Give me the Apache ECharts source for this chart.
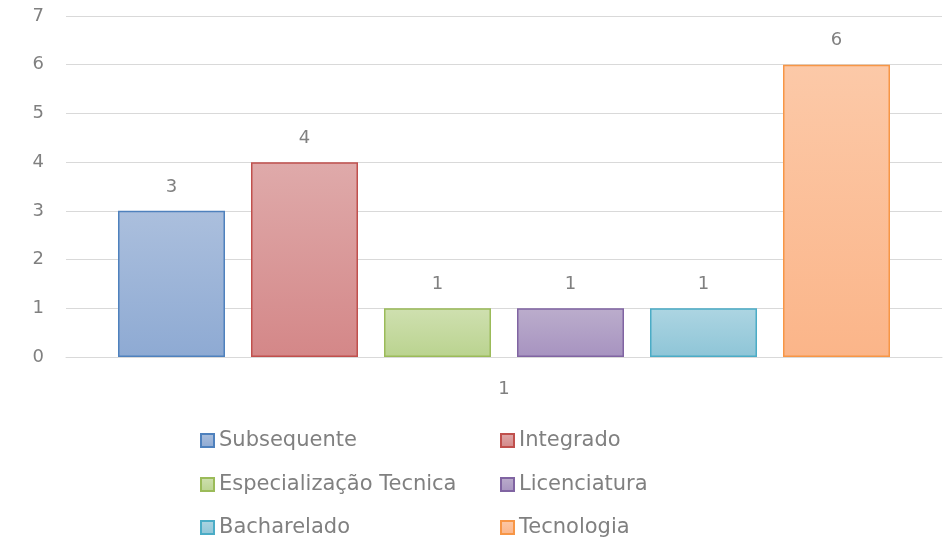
<!DOCTYPE html>
<html>
<head>
<meta charset="utf-8">
<script src="https://cdn.jsdelivr.net/npm/echarts@6/dist/echarts.min.js"></script>
<style>
  html, body { margin: 0; padding: 0; background: #fff; }
  #main { width: 946px; height: 543px; }
</style>
</head>
<body>
<div id="main"></div>
<script>
// based ready dom, initialize echarts instance
var myChart = echarts.init(document.getElementById('main'));

var categories = ['1'];
var seriesNames = ['Subsequente', 'Integrado', 'Especialização Tecnica', 'Licenciatura', 'Bacharelado', 'Tecnologia'];
var seriesValues = [3, 4, 1, 1, 1, 6];
var yTicks = [0, 1, 2, 3, 4, 5, 6, 7];

// border, gradient top, gradient bottom
var palette = [
    ['#4f81bd', '#abbfdd', '#8eaad3'],
    ['#c0504d', '#dfaaaa', '#d48788'],
    ['#9bbb59', '#cfe0b0', '#bad38f'],
    ['#8064a2', '#bbadcc', '#a793c0'],
    ['#4bacc6', '#add5e2', '#8ec5d7'],
    ['#f79646', '#fcc9a8', '#fbb589']
];

// legend slots: left x, top y
var legendPos = [
    [200, 430], [500, 430],
    [200, 474], [500, 474],
    [200, 517], [500, 517]
];

var fontName = 'DejaVu Sans';
var grey = '#808080';

var series = seriesNames.map(function (name, i) {
    return {
        name: name,
        type: 'bar',
        barWidth: 107,
        barGap: '24.3%',
        data: [seriesValues[i]],
        itemStyle: {
            borderColor: palette[i][0],
            borderWidth: 1.5,
            color: new echarts.graphic.LinearGradient(0, 0, 0, 1, [
                {offset: 0, color: palette[i][1]},
                {offset: 1, color: palette[i][2]}
            ])
        },
        label: {
            show: true,
            position: 'top',
            distance: 15,
            color: grey,
            fontFamily: fontName,
            fontSize: 18
        }
    };
});

var legends = seriesNames.map(function (name, i) {
    return {
        data: [name],
        left: legendPos[i][0],
        top: legendPos[i][1],
        orient: 'horizontal',
        icon: 'rect',
        itemWidth: 13,
        itemHeight: 13,
        itemGap: 0,
        itemTextGap: 4,
        padding: 0,
        selectedMode: false,
        textStyle: { color: grey, fontFamily: fontName, fontSize: 21 }
    };
});

var option = {
    animation: false,
    grid: { left: 66, right: 4, top: 16, bottom: 186, containLabel: false },
    legend: legends,
    xAxis: {
        type: 'category',
        data: categories,
        axisLine: { show: true, lineStyle: { color: '#d9d9d9', width: 1 } },
        axisTick: { show: false },
        axisLabel: { color: grey, fontFamily: fontName, fontSize: 18, margin: 23 }
    },
    yAxis: {
        type: 'value',
        min: yTicks[0],
        max: yTicks[yTicks.length - 1],
        interval: 1,
        axisLine: { show: false },
        axisTick: { show: false },
        axisLabel: { color: grey, fontFamily: fontName, fontSize: 18, margin: 22 },
        splitLine: { lineStyle: { color: '#d9d9d9', width: 1 } }
    },
    series: series
};

myChart.setOption(option);
</script>
</body>
</html>
